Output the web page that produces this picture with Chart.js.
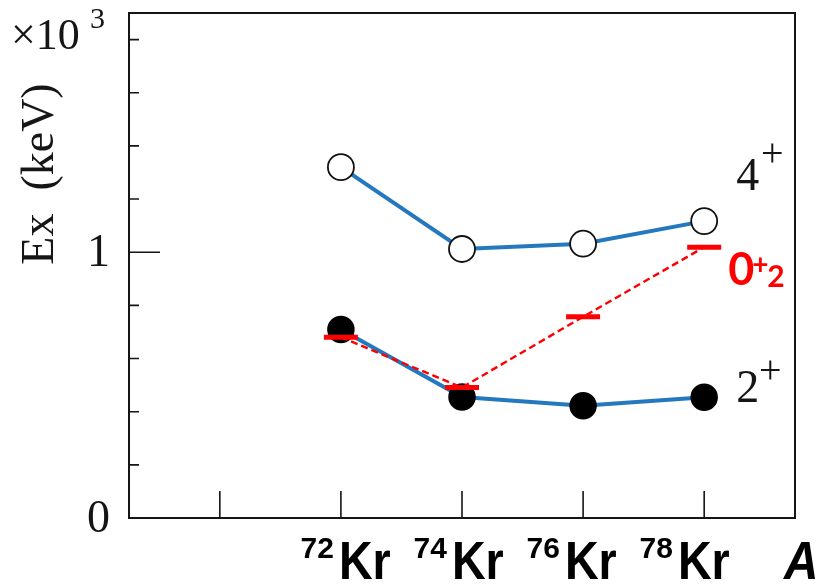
<!DOCTYPE html>
<html>
<head>
<meta charset="utf-8">
<title>Kr excitation energies</title>
<script src="https://cdn.jsdelivr.net/npm/chart.js@4"></script>
<style>
  html, body { margin: 0; padding: 0; background: #fff; }
  canvas { display: block; }
</style>
</head>
<body>
<canvas id="c" width="824" height="584"></canvas>
<script>
// Isotopes and mass numbers (x axis)
const massNumbers = [72, 74, 76, 78];
const massLabels = ['72', '74', '76', '78'];
const elementSymbol = 'Kr';

// Excitation energies in units of 10^3 keV
const energy4plus = [1.320, 1.012, 1.032, 1.117];
const energy2plus = [0.709, 0.455, 0.422, 0.454];
const energy0plus2 = [0.680, 0.491, 0.757, 1.019];

// Axis ticks
const xTickValues = [70, 72, 74, 76, 78];
const yMajorTicks = [0, 1];
const yMinorTicks = [0.2, 0.4, 0.6, 0.8, 1.2, 1.4, 1.6, 1.8];

const BLUE = 'rgb(35,120,190)';
const RED = '#ff0000';
const INK = '#151515';
const SERIF = '"Liberation Serif", "DejaVu Serif", serif';
const SANS = '"Liberation Sans", Arial, sans-serif';

const toPoints = (ys) => massNumbers.map((a, i) => ({ x: a, y: ys[i] }));

// Frame, inward tick marks and all axis / level annotations
const framePlugin = {
  id: 'frame',
  afterDraw(chart) {
    const ctx = chart.ctx;
    const area = chart.chartArea;
    const xs = chart.scales.x;
    const ys = chart.scales.y;
    ctx.save();

    ctx.strokeStyle = INK;
    ctx.lineWidth = 2;
    ctx.strokeRect(area.left, area.top, area.right - area.left, area.bottom - area.top);

    ctx.lineWidth = 1.6;
    ctx.beginPath();
    yMinorTicks.forEach(v => {
      const y = ys.getPixelForValue(v);
      ctx.moveTo(area.left, y);
      ctx.lineTo(area.left + 10, y);
    });
    yMajorTicks.forEach(v => {
      if (v === 0) return;
      const y = ys.getPixelForValue(v);
      ctx.moveTo(area.left, y);
      ctx.lineTo(area.left + 31, y);
    });
    xTickValues.forEach(v => {
      const x = xs.getPixelForValue(v);
      ctx.moveTo(x, area.bottom);
      ctx.lineTo(x, area.bottom - 27);
    });
    ctx.stroke();

    // y tick labels
    ctx.fillStyle = INK;
    ctx.font = '46px ' + SERIF;
    ctx.textAlign = 'right';
    ctx.textBaseline = 'middle';
    yMajorTicks.forEach(v => {
      ctx.fillText(String(v), area.left - 19, ys.getPixelForValue(v) + 2);
    });

    // axis multiplier
    ctx.textAlign = 'left';
    ctx.textBaseline = 'alphabetic';
    ctx.font = '44px ' + SERIF;
    ctx.fillText('\u00d710', 11, 49);
    ctx.font = '30px ' + SERIF;
    ctx.fillText('3', 90, 28);

    // y axis title
    ctx.save();
    ctx.translate(53, 174);
    ctx.rotate(-Math.PI / 2);
    ctx.font = '46px ' + SERIF;
    ctx.textAlign = 'center';
    ctx.fillText('Ex  (keV)', 0, 0);
    ctx.restore();

    // level labels
    const labelX = xs.getPixelForValue(massNumbers[3]) + 32;
    ctx.font = '46px ' + SERIF;
    ctx.textAlign = 'left';
    ctx.fillText('4', labelX, 190);
    ctx.fillText('2', labelX, 402);
    ctx.font = '40px ' + SERIF;
    ctx.textAlign = 'center';
    ctx.fillText('+', labelX + 36, 166);
    ctx.fillText('+', labelX + 34, 383);

    ctx.fillStyle = RED;
    ctx.textAlign = 'left';
    ctx.font = 'bold 45px Lato, "Open Sans", sans-serif';
    ctx.fillText('0', labelX - 8, 285);
    ctx.font = 'bold 28px Lato, "Open Sans", sans-serif';
    ctx.fillText('+', labelX + 16, 274);
    ctx.font = 'bold 30px Lato, "Open Sans", sans-serif';
    ctx.fillText('2', labelX + 31, 287);

    // isotope labels
    ctx.fillStyle = '#000';
    const firstX = xs.getPixelForValue(massNumbers[0]);
    const pitch = 113;
    massLabels.forEach((m, i) => {
      const kx = firstX - 2 + i * pitch;
      ctx.font = 'bold 30px ' + SANS;
      ctx.textAlign = 'right';
      ctx.fillText(m, kx - 5, 558);
      ctx.save();
      ctx.translate(kx, 579);
      ctx.scale(0.88, 1);
      ctx.font = 'bold 53px ' + SANS;
      ctx.textAlign = 'left';
      ctx.fillText(elementSymbol, 0, 0);
      ctx.restore();
    });
    ctx.save();
    ctx.translate(784, 579);
    ctx.scale(0.9, 1);
    ctx.font = 'italic bold 53px ' + SANS;
    ctx.textAlign = 'left';
    ctx.fillText('A', 0, 0);
    ctx.restore();

    ctx.restore();
  }
};

new Chart(document.getElementById('c'), {
  type: 'scatter',
  data: {
    datasets: [
      {
        label: '0+2',
        data: toPoints(energy0plus2),
        showLine: true,
        borderColor: RED,
        borderWidth: 2.4,
        borderDash: [7, 4],
        pointStyle: 'line',
        pointRadius: 17,
        pointBorderWidth: 5,
        pointBorderColor: RED,
        pointBackgroundColor: RED,
        order: 0
      },
      {
        label: '2+',
        data: toPoints(energy2plus),
        showLine: true,
        borderColor: BLUE,
        borderWidth: 4,
        pointStyle: 'circle',
        pointRadius: 13,
        pointBorderWidth: 1.5,
        pointBorderColor: '#000',
        pointBackgroundColor: '#000',
        order: 1
      },
      {
        label: '4+',
        data: toPoints(energy4plus),
        showLine: true,
        borderColor: BLUE,
        borderWidth: 4,
        pointStyle: 'circle',
        pointRadius: 13,
        pointBorderWidth: 1.8,
        pointBorderColor: '#111',
        pointBackgroundColor: '#fff',
        order: 2
      }
    ]
  },
  options: {
    responsive: false,
    animation: false,
    devicePixelRatio: 1,
    layout: { autoPadding: false, padding: { left: 129, right: 29, top: 13, bottom: 66 } },
    plugins: {
      legend: { display: false },
      tooltip: { enabled: false }
    },
    scales: {
      x: { type: 'linear', min: 68.5, max: 79.5, display: false },
      y: { type: 'linear', min: 0, max: 1.9, display: false }
    }
  },
  plugins: [framePlugin]
});
</script>
</body>
</html>
